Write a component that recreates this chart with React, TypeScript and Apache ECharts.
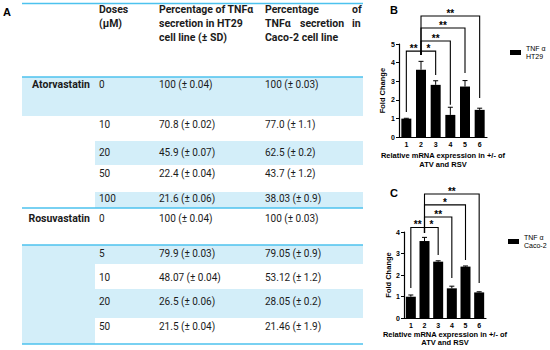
import React, { useEffect, useRef } from "react";
import * as echarts from "echarts";

// ---------- data ----------
const categories = ["1", "2", "3", "4", "5", "6"];
const ht29Mean = [1.0, 3.62, 2.81, 1.2, 2.72, 1.47];
const ht29Err = [0.02, 0.45, 0.22, 0.41, 0.32, 0.09];
const caco2Mean = [0.99, 3.58, 2.62, 1.38, 2.39, 1.19];
const caco2Err = [0.08, 0.17, 0.04, 0.1, 0.03, 0.03];

// [fromIndex, toIndex, bracketLevel, fromLegBottom, toLegBottom]
const ht29Brackets = [
  [0, 1, 4.62, 1.36, 4.41],
  [1, 2, 4.62, 4.41, 3.34],
  [1, 3, 5.16, 4.41, 1.75],
  [1, 4, 5.86, 4.41, 3.45],
  [1, 5, 6.5, 4.41, 2.1],
];
const ht29Stars = ["**", "*", "**", "**", "**"];
const caco2Brackets = [
  [0, 1, 4.21, 1.4, 3.95],
  [1, 2, 4.21, 3.95, 2.93],
  [1, 3, 4.7, 3.95, 1.86],
  [1, 4, 5.26, 3.95, 2.7],
  [1, 5, 5.77, 3.95, 1.63],
];
const caco2Stars = ["**", "*", "**", "*", "**"];

const yTicksB = [0, 1, 2, 3, 4, 5];
const yTicksC = [0, 1, 2, 3, 4];

// table
const drugs = ["Atorvastatin", "Rosuvastatin"];
const atvDoses = ["0", "10", "20", "50", "100"];
const atvHT29 = ["100 (± 0.04)", "70.8 (± 0.02)", "45.9 (± 0.07)", "22.4 (± 0.04)", "21.6 (± 0.06)"];
const atvCaco2 = ["100 (± 0.03)", "77.0 (± 1.1)", "62.5 (± 0.2)", "43.7 (± 1.2)", "38.03 (± 0.9)"];
const rsvDoses = ["0", "5", "10", "20", "50"];
const rsvHT29 = ["100 (± 0.04)", "79.9 (± 0.03)", "48.07 (± 0.04)", "26.5 (± 0.06)", "21.5 (± 0.04)"];
const rsvCaco2 = ["100 (± 0.03)", "79.05 (± 0.9)", "53.12 (± 1.2)", "28.05 (± 0.2)", "21.46 (± 1.9)"];
const headDose = ["Doses", "(μM)"];
const headHT29 = ["Percentage of TNFα", "secretion in HT29", "cell line (± SD)"];
const headCaco2 = ["Percentage", "TNFα", "Caco-2 cell line"];
const headCaco2Extra = ["of", "secretion", "in"];

// ---------- layout (not data) ----------
const TL = 22, TR = 363, COL2 = 95;
const X1R = 90, X2 = 99, X3 = 159, X4 = 265;
const LINE = "#4cc2ee", BAND = "#d3eef9", INK = "#1b1b1b";
const TFONT = "Roboto";
const CFONT = "Liberation Sans";
const headY = [9.5, 23.5, 37.5];
const atvTextY = [84.5, 124, 152, 173, 198];
const rsvTextY = [218, 253, 277, 301, 326];

function txt(text: string, x: number, y: number, font: string, align = "left", fill = INK) {
  return {
    type: "text",
    x,
    y,
    silent: true,
    style: {
      text,
      font,
      fill,
      align,
      textAlign: align,
      verticalAlign: "middle",
      textVerticalAlign: "middle",
    },
  };
}
function rect(x: number, y: number, w: number, h: number) {
  return { type: "rect", silent: true, z: 0, shape: { x, y, width: w, height: h }, style: { fill: BAND } };
}
function hline(y: number) {
  return { type: "line", silent: true, z: 2, shape: { x1: TL, y1: y, x2: TR, y2: y }, style: { stroke: LINE, lineWidth: 1.5 } };
}

function buildTable() {
  const els: any[] = [];
  els.push(rect(TL, 77, TR - TL, 39));
  els.push(rect(COL2, 141, TR - COL2, 24));
  els.push(rect(COL2, 192, TR - COL2, 16));
  els.push(rect(TL, 245, COL2 - TL, 99));
  els.push(rect(COL2, 245, TR - COL2, 19));
  els.push(rect(COL2, 289, TR - COL2, 29));
  [3.5, 77, 208, 245, 344].forEach((y) => els.push(hline(y)));
  const hb = `bold 10.5px ${TFONT}`;
  const rg = `10px ${TFONT}`;
  headDose.forEach((t, i) => els.push(txt(t, X2, headY[i], hb)));
  headHT29.forEach((t, i) => els.push(txt(t, X3, headY[i], hb)));
  headCaco2.forEach((t, i) => els.push(txt(t, X4, headY[i], hb)));
  els.push(txt(headCaco2Extra[0], 352, headY[0], hb));
  els.push(txt(headCaco2Extra[1], 300, headY[1], hb));
  els.push(txt(headCaco2Extra[2], 352, headY[1], hb));
  els.push(txt(drugs[0], X1R, atvTextY[0], hb, "right"));
  atvDoses.forEach((d, i) => {
    els.push(txt(d, X2, atvTextY[i], rg));
    els.push(txt(atvHT29[i], X3, atvTextY[i], rg));
    els.push(txt(atvCaco2[i], X4, atvTextY[i], rg));
  });
  els.push(txt(drugs[1], X1R, rsvTextY[0], hb, "right"));
  rsvDoses.forEach((d, i) => {
    els.push(txt(d, X2, rsvTextY[i], rg));
    els.push(txt(rsvHT29[i], X3, rsvTextY[i], rg));
    els.push(txt(rsvCaco2[i], X4, rsvTextY[i], rg));
  });
  const pf = `bold 11px ${CFONT}`;
  els.push(txt("A", 3, 12, pf, "left", "#000"));
  els.push(txt("B", 390, 10, pf, "left", "#000"));
  els.push(txt("C", 390, 193, pf, "left", "#000"));
  return els;
}

function errorSeries(mean: number[], err: number[], idx: number) {
  return {
    type: "custom",
    xAxisIndex: idx,
    yAxisIndex: idx,
    z: 5,
    silent: true,
    data: mean.map((m, i) => [i, m, err[i]]),
    encode: { x: 0, y: 1 },
    renderItem: (params: any, api: any) => {
      const i = api.value(0);
      const top = api.coord([i, api.value(1) + api.value(2)]);
      const base = api.coord([i, api.value(1)]);
      return {
        type: "group",
        children: [
          { type: "line", shape: { x1: base[0], y1: base[1], x2: top[0], y2: top[1] }, style: { stroke: "#000", lineWidth: 1 } },
          { type: "line", shape: { x1: top[0] - 2.5, y1: top[1], x2: top[0] + 2.5, y2: top[1] }, style: { stroke: "#000", lineWidth: 1 } },
        ],
      };
    },
  };
}

function bracketSeries(br: number[][], stars: string[], idx: number) {
  return {
    type: "custom",
    xAxisIndex: idx,
    yAxisIndex: idx,
    z: 6,
    silent: true,
    clip: false,
    data: br,
    encode: { x: 0, y: 2 },
    renderItem: (params: any, api: any) => {
      const a = api.coord([api.value(0), api.value(3)]);
      const b = api.coord([api.value(0), api.value(2)]);
      const c = api.coord([api.value(1), api.value(2)]);
      const d = api.coord([api.value(1), api.value(4)]);
      return {
        type: "group",
        children: [
          { type: "polyline", shape: { points: [a, b, c, d] }, style: { stroke: "#000", lineWidth: 1.1, fill: null } },
          {
            type: "text",
            x: (b[0] + c[0]) / 2,
            y: b[1] - 2.5,
            style: {
              text: stars[params.dataIndex],
              fill: "#000",
              font: `bold 10px ${CFONT}`,
              align: "center",
              textAlign: "center",
              verticalAlign: "middle",
              textVerticalAlign: "middle",
            },
          },
        ],
      };
    },
  };
}

const axisFont = { fontSize: 7, fontWeight: "bold" as const, fontFamily: CFONT, color: "#000" };

function xAxisOf(idx: number, gap: number) {
  return {
    type: "category",
    gridIndex: idx,
    data: categories,
    axisLine: { lineStyle: { color: "#000", width: 1.2 } },
    axisTick: { alignWithLabel: true, length: 3, lineStyle: { color: "#000" } },
    axisLabel: { ...axisFont, margin: 4 },
    name: "Relative mRNA expression in +/- of\nATV and RSV",
    nameLocation: "middle",
    nameGap: gap,
    nameTextStyle: { ...axisFont, fontSize: 7.5, lineHeight: 8.5 },
  };
}
function yAxisOf(idx: number, max: number, gap: number) {
  return {
    type: "value",
    gridIndex: idx,
    min: 0,
    max,
    interval: 1,
    axisLine: { show: true, lineStyle: { color: "#000", width: 1.2 } },
    axisTick: { show: true, length: 3, lineStyle: { color: "#000" } },
    axisLabel: { ...axisFont, margin: 4 },
    splitLine: { show: false },
    name: "Fold Change",
    nameLocation: "middle",
    nameGap: gap,
    nameTextStyle: { ...axisFont, fontSize: 7.5 },
  };
}

export default function App() {
  const ref = useRef<HTMLDivElement>(null);
  useEffect(() => {
    if (!ref.current) return;
    const chart = echarts.init(ref.current, null, { renderer: "svg" });
    const nameB = "TNF α\nHT29";
    const nameC = "TNF α\nCaco-2";
    chart.setOption({
      animation: false,
      backgroundColor: "#fff",
      grid: [
        { left: 399, top: 44, width: 88, height: 93.3 },
        { left: 404, top: 232, width: 82, height: 86 },
      ],
      xAxis: [xAxisOf(0, 14), xAxisOf(1, 12)],
      yAxis: [yAxisOf(0, yTicksB[yTicksB.length - 1], 13), yAxisOf(1, yTicksC[yTicksC.length - 1], 12)],
      legend: [
        {
          data: [nameB],
          left: 510,
          top: 45,
          padding: 0,
          itemWidth: 11,
          itemHeight: 5,
          icon: "rect",
          selectedMode: false,
          textStyle: { fontSize: 7, fontFamily: CFONT, color: "#000", lineHeight: 7.5 },
        },
        {
          data: [nameC],
          left: 508,
          top: 234,
          padding: 0,
          itemWidth: 11,
          itemHeight: 5,
          icon: "rect",
          selectedMode: false,
          textStyle: { fontSize: 7, fontFamily: CFONT, color: "#000", lineHeight: 7.5 },
        },
      ],
      series: [
        { type: "bar", name: nameB, xAxisIndex: 0, yAxisIndex: 0, data: ht29Mean, barWidth: 10, itemStyle: { color: "#000" } },
        errorSeries(ht29Mean, ht29Err, 0),
        bracketSeries(ht29Brackets, ht29Stars, 0),
        { type: "bar", name: nameC, xAxisIndex: 1, yAxisIndex: 1, data: caco2Mean, barWidth: 10, itemStyle: { color: "#000" } },
        errorSeries(caco2Mean, caco2Err, 1),
        bracketSeries(caco2Brackets, caco2Stars, 1),
      ],
      graphic: buildTable(),
    });
    return () => chart.dispose();
  }, []);
  return (
    <div
      ref={ref}
      style={{ position: "fixed", left: 0, top: 0, width: 550, height: 350, background: "#fff" }}
    />
  );
}
